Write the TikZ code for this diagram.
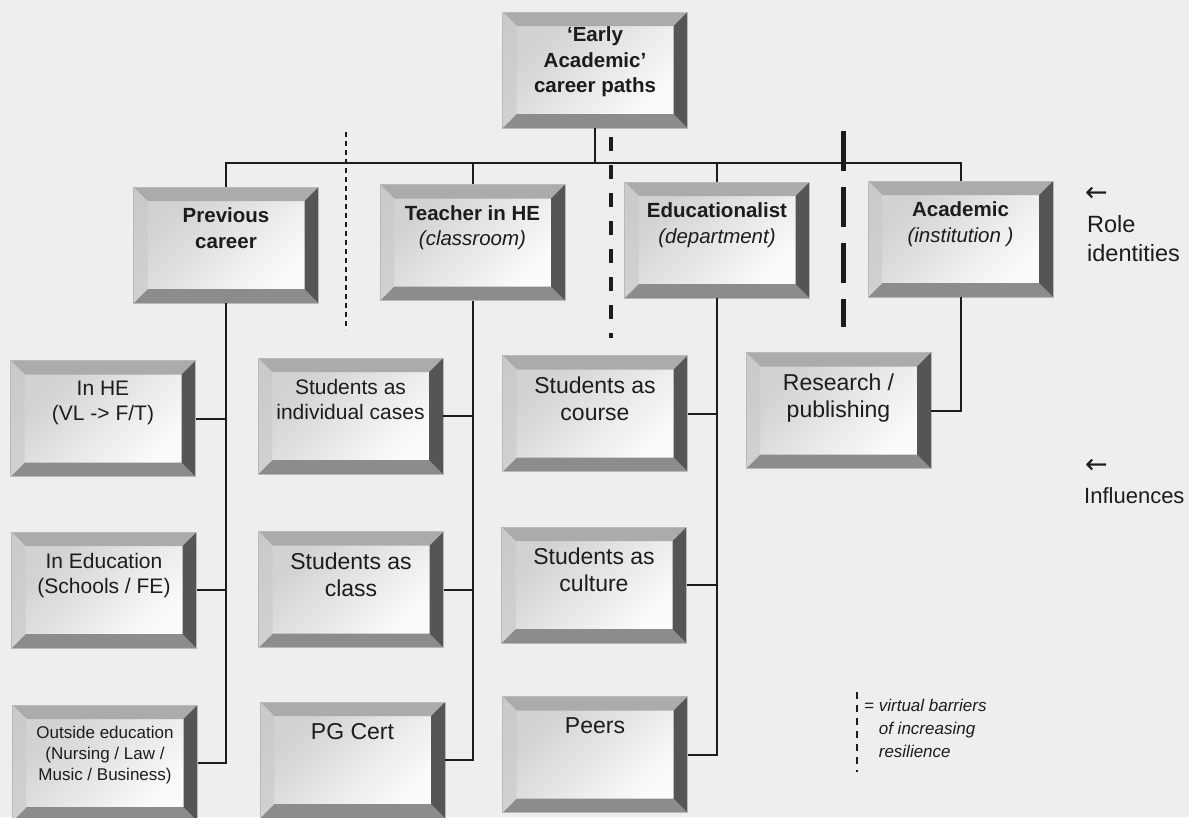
\documentclass[tikz,border=0pt]{standalone}
\usepackage{fontspec}
\setmainfont{Liberation Sans}
\newfontfamily\symfont{DejaVu Sans}
\usetikzlibrary{calc}

\definecolor{paper}{HTML}{EEEEEE}
\definecolor{bvtop}{HTML}{ABABAB}
\definecolor{bvleft}{HTML}{C9C9C9}
\definecolor{bvright}{HTML}{555555}
\definecolor{bvbottom}{HTML}{8C8C8C}
\definecolor{facedark}{HTML}{D2D2D2}
\definecolor{facelight}{HTML}{FAFAFA}
\definecolor{ink}{HTML}{1C1C1C}

\newcommand{\bv}{14pt}

\tikzset{
  bevelbox/.style={rectangle, inner sep=0pt, minimum width=185pt, minimum height=116pt,
    draw=gray!55, line width=0.5pt, fill=facelight,
    path picture={
      \coordinate (bbNW) at (path picture bounding box.north west);
      \coordinate (bbNE) at (path picture bounding box.north east);
      \coordinate (bbSW) at (path picture bounding box.south west);
      \coordinate (bbSE) at (path picture bounding box.south east);
      \shade[top color=facedark, bottom color=facelight, shading angle=45]
        ($(bbSW)+(\bv,\bv)$) rectangle ($(bbNE)+(-\bv,-\bv)$);
      \fill[bvtop] (bbNW) -- (bbNE) -- ($(bbNE)+(-\bv,-\bv)$) -- ($(bbNW)+(\bv,-\bv)$) -- cycle;
      \fill[bvbottom] (bbSW) -- (bbSE) -- ($(bbSE)+(-\bv,\bv)$) -- ($(bbSW)+(\bv,\bv)$) -- cycle;
      \shade[top color=bvleft, bottom color=bvleft!85!white]
        (bbNW) -- (bbSW) -- ($(bbSW)+(\bv,\bv)$) -- ($(bbNW)+(\bv,-\bv)$) -- cycle;
      \fill[bvright] (bbNE) -- (bbSE) -- ($(bbSE)+(-\bv,\bv)$) -- ($(bbNE)+(-\bv,-\bv)$) -- cycle;
    }},
  boxtext/.style={anchor=north, yshift=-21pt, align=center, inner sep=0pt, text=ink},
  rolefont/.style={font=\fontsize{20.5}{25.5}\selectfont},
  smallfont/.style={font=\fontsize{21}{25}\selectfont},
  midfont/.style={font=\fontsize{23}{27}\selectfont},
  conn/.style={draw=ink, line width=2pt},
  sidetext/.style={anchor=north west, align=left, inner sep=0pt, text=ink,
    font=\fontsize{23.5}{29}\selectfont},
  sidearrow/.style={anchor=west, inner sep=0pt, text=ink, font=\symfont\fontsize{27}{27}\selectfont},
}

\begin{document}
\begin{tikzpicture}[x=1pt, y=-1pt]
  \useasboundingbox (0,0) rectangle (1189,817);
  \fill[paper] (0,0) rectangle (1189,817);

  % root
  \node[bevelbox, label={[boxtext, rolefont, yshift=6pt]north:\textbf{‘Early}\\\textbf{Academic’}\\\textbf{career paths}}]
    (root) at (595,70) {};

  % role identities
  \node[bevelbox, label={[boxtext, rolefont]north:\textbf{Previous}\\\textbf{career}}] (prev) at (226,245) {};
  \node[bevelbox, label={[boxtext, rolefont]north:\textbf{Teacher in HE}\\\textit{(classroom)}}] (teach) at (472.5,242.5) {};
  \node[bevelbox, label={[boxtext, rolefont]north:\textbf{Educationalist}\\\textit{(department)}}] (edu) at (717,240) {};
  \node[bevelbox, label={[boxtext, rolefont]north:\textbf{Academic}\\\textit{(institution )}}] (acad) at (960.5,239) {};

  % influences
  \node[bevelbox, label={[boxtext, smallfont]north:In HE\\(VL -> F/T)}] (inhe) at (103,418.5) {};
  \node[bevelbox, label={[boxtext, smallfont]north:In Education\\(Schools / FE)}] (ined) at (104,590) {};
  \node[bevelbox, label={[boxtext, font=\fontsize{17}{21}\selectfont]north:Outside education\\(Nursing / Law /\\Music / Business)}] (outside) at (105,763) {};

  \node[bevelbox, label={[boxtext, smallfont]north:Students as\\individual cases}] (indiv) at (350.5,416) {};
  \node[bevelbox, label={[boxtext, midfont]north:Students as\\class}] (class) at (351,589.5) {};
  \node[bevelbox, label={[boxtext, midfont]north:PG Cert}] (pgcert) at (352.5,760) {};

  \node[bevelbox, label={[boxtext, midfont]north:Students as\\course}] (course) at (595,413.5) {};
  \node[bevelbox, label={[boxtext, midfont]north:Students as\\culture}] (culture) at (594,585) {};
  \node[bevelbox, label={[boxtext, midfont]north:Peers}] (peers) at (595,754.5) {};

  \node[bevelbox, label={[boxtext, midfont]north:Research /\\publishing}] (research) at (838.5,410.5) {};

  % tree connectors
  \coordinate (hub) at (595,163);
  \draw[conn] (root.south) -- (hub);
  \draw[conn] (prev.north) |- (hub) -| (acad.north);
  \draw[conn] (teach.north) -- (teach.north |- hub);
  \draw[conn] (edu.north) -- (edu.north |- hub);

  \draw[conn] (prev.south) |- (outside.east);
  \draw[conn] (inhe.east) -- (inhe.east -| prev.south);
  \draw[conn] (ined.east) -- (ined.east -| prev.south);

  \draw[conn] (teach.south) |- (pgcert.east);
  \draw[conn] (indiv.east) -- (indiv.east -| teach.south);
  \draw[conn] (class.east) -- (class.east -| teach.south);

  \draw[conn] (edu.south) |- (peers.east);
  \draw[conn] (course.east) -- (course.east -| edu.south);
  \draw[conn] (culture.east) -- (culture.east -| edu.south);

  \draw[conn] (acad.south) |- (research.east);

  % barriers of increasing resilience
  \draw[ink, line width=1.3pt, dash pattern=on 5pt off 4pt] (346,132) -- (346,330);
  \draw[ink, line width=4pt, dash pattern=on 14pt off 14pt] (611,137) -- (611,338);
  \draw[ink, line width=5pt, dash pattern=on 40pt off 16pt] (843,131) -- (843,327);

  % side annotations
  \node[sidearrow] (arrRole) at (1085,194) {←};
  \node[sidetext] (roleLbl) at (1087,215) {Role\\identities};
  \node[sidearrow] (arrInfl) at (1085,466) {←};
  \node[sidetext, font=\fontsize{22}{27}\selectfont] (inflLbl) at (1084,487) {Influences};

  % legend
  \draw[ink, line width=2pt, dash pattern=on 7pt off 6pt] (857,692) -- (857,772);
  \node[anchor=north west, align=left, inner sep=0pt, text=ink,
        font=\itshape\fontsize{17}{23}\selectfont] (legendLbl) at (864,699)
    {= virtual barriers\\\hphantom{= }of increasing\\\hphantom{= }resilience};
\end{tikzpicture}
\end{document}
